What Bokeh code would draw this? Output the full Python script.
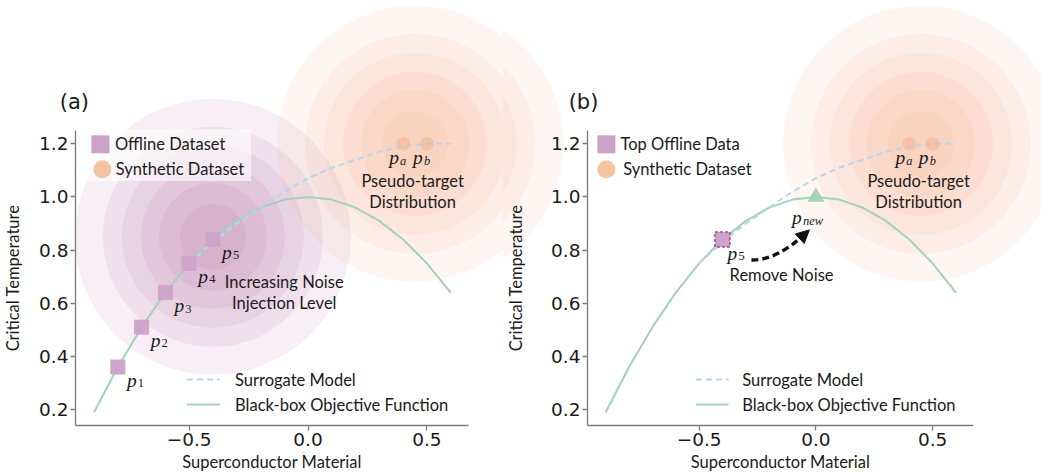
from bokeh.plotting import figure
from bokeh.layouts import row
from bokeh.models import Range1d, FixedTicker, Arrow, NormalHead
from bokeh.core.properties import value
from bokeh.embed import file_html
from bokeh.resources import INLINE

# ---------------- data ----------------
curve_x = [-0.9, -0.8, -0.7, -0.6, -0.5, -0.4, -0.3, -0.2, -0.1, 0.0, 0.1, 0.2, 0.3, 0.4, 0.5, 0.6]
curve_y = [0.19, 0.36, 0.51, 0.64, 0.75, 0.84, 0.91, 0.96, 0.99, 1.00, 0.99, 0.96, 0.91, 0.84, 0.75, 0.64]
surr_x = [-0.5, -0.4, -0.3, -0.2, -0.1, 0.0, 0.1, 0.2, 0.3, 0.4, 0.5, 0.6]
surr_y = [0.75, 0.83, 0.90, 0.96, 1.02, 1.07, 1.11, 1.14, 1.17, 1.19, 1.20, 1.20]
offline_x = [-0.8, -0.7, -0.6, -0.5, -0.4]
offline_y = [0.36, 0.51, 0.64, 0.75, 0.84]
offline_sub = ["1", "2", "3", "4", "5"]
synth_x = [0.4, 0.5]
synth_y = [1.2, 1.2]
synth_sub = ["a", "b"]
top_x = [-0.4]
top_y = [0.84]
top_sub = ["5"]
new_x = [0.0]
new_y = [1.0]
new_sub = ["new"]
noise_cx, noise_cy = -0.4, 0.85
target_cx, target_cy = 0.45, 1.2
ring_sizes = [276, 220, 182, 144, 108, 66]
x_ticks = [-0.5, 0.0, 0.5]
x_tick_labels = ["\u22120.5", "0.0", "0.5"]
y_ticks = [0.2, 0.4, 0.6, 0.8, 1.0, 1.2]
y_tick_labels = ["0.2", "0.4", "0.6", "0.8", "1.0", "1.2"]

# ---------------- styles ----------------
PURPLE_RING = "#a85a98"
ORANGE_RING = "#f0a070"
SQ = "#cda2c9"
ORANGE = "#f4c4a2"
GREEN = "#a3d2b9"
BLUE = "#b6d6f0"
TXT = "#1a1a1a"
SANS = value("Lato")
SERIF = value("Liberation Serif")
FS = "16.5px"
XR = (-0.978, 0.675)
YR = (0.14, 1.25)
PX_PER_X = 239.0
FRAME_LEFT_A, FRAME_LEFT_B = 73, 580


def base_fig(width, left, right, ylabel_standoff):
    p = figure(width=width, height=476, output_backend="svg", toolbar_location=None,
               x_range=Range1d(*XR), y_range=Range1d(*YR),
               min_border_left=left, min_border_right=right,
               min_border_top=130, min_border_bottom=51)
    p.outline_line_color = None
    p.xgrid.visible = False
    p.ygrid.visible = False
    p.background_fill_color = None
    p.border_fill_color = None
    p.xaxis.ticker = FixedTicker(ticks=x_ticks)
    p.xaxis.major_label_overrides = dict(zip(x_ticks, x_tick_labels))
    p.yaxis.ticker = FixedTicker(ticks=y_ticks)
    p.yaxis.major_label_overrides = dict(zip(y_ticks, y_tick_labels))
    for ax in (p.xaxis[0], p.yaxis[0]):
        ax.axis_line_color = "#7a7a7a"
        ax.axis_line_width = 1.3
        ax.major_tick_line_color = "#7a7a7a"
        ax.major_tick_line_width = 1.3
        ax.major_tick_in = 0
        ax.major_tick_out = 5
        ax.minor_tick_line_color = None
        ax.major_label_text_font = "DejaVu Sans"
        ax.major_label_text_font_size = "18.5px"
        ax.major_label_text_color = TXT
        ax.major_label_standoff = 2
        ax.axis_label_text_font = "Lato"
        ax.axis_label_text_font_size = "16.5px"
        ax.axis_label_text_font_style = "normal"
        ax.axis_label_text_color = TXT
    p.xaxis.axis_label = "Superconductor Material"
    p.yaxis.axis_label = "Critical Temperature"
    p.xaxis.axis_label_standoff = 3
    p.yaxis.axis_label_standoff = ylabel_standoff
    return p


def rings(p, cx, cy, color):
    p.scatter(x=[cx] * len(ring_sizes), y=[cy] * len(ring_sizes), size=ring_sizes,
              marker="circle", fill_color=color, fill_alpha=0.095, line_color=None, level="guide")


def p_labels(p, xs, ys, subs, dx, dy, sub_dx=6, sub_style="italic"):
    p.text(x=xs, y=ys, text=["p"] * len(xs), x_offset=dx, y_offset=dy,
           text_font=SERIF, text_font_style="italic", text_font_size="19.5px",
           text_align="center", text_baseline="alphabetic", text_color=TXT, level="annotation")
    p.text(x=xs, y=ys, text=subs, x_offset=dx + sub_dx, y_offset=dy + 3,
           text_font=SERIF, text_font_style=sub_style, text_font_size="12.5px",
           text_align="left", text_baseline="alphabetic", text_color=TXT, level="annotation")


def common(p):
    rings(p, target_cx, target_cy, ORANGE_RING)
    p.line(curve_x, curve_y, line_color=GREEN, line_width=2, level="annotation")
    p.line(surr_x, surr_y, line_color=BLUE, line_width=2, line_dash="6 4", level="annotation")
    p.scatter(synth_x, synth_y, size=14, marker="circle", fill_color="#f0b08a",
              fill_alpha=0.45, line_color=None, level="annotation")
    p_labels(p, synth_x, synth_y, synth_sub, -9, 14, sub_dx=6)
    p.text(x=[0.44], y=[1.02], text=["Pseudo-target\nDistribution"], text_font=SANS,
           text_font_size=FS, text_align="center", text_baseline="middle",
           text_line_height=1.05, text_color=TXT, level="annotation")


def legends(p, sq_x, sq_text_x, circ_x, circ_text_x, first_label, ln_x0, ln_x1, ln_text_x):
    p.scatter([sq_x], [1.198], size=18, marker="square", fill_color=SQ, line_color=None, level="annotation")
    p.text(x=[sq_text_x], y=[1.198], text=[first_label], text_font=SANS, text_font_size=FS,
           text_baseline="middle", text_color=TXT, level="annotation")
    p.scatter([circ_x], [1.104], size=18, marker="circle", fill_color=ORANGE, line_color=None, level="annotation")
    p.text(x=[circ_text_x], y=[1.104], text=["Synthetic Dataset"], text_font=SANS, text_font_size=FS,
           text_baseline="middle", text_color=TXT, level="annotation")
    p.line([ln_x0, ln_x1], [0.313, 0.313], line_color=BLUE, line_width=2, line_dash="6 4", level="annotation")
    p.text(x=[ln_text_x], y=[0.313], text=["Surrogate Model"], text_font=SANS, text_font_size=FS,
           text_baseline="middle", text_color=TXT, level="annotation")
    p.line([ln_x0, ln_x1], [0.219, 0.219], line_color=GREEN, line_width=2, level="annotation")
    p.text(x=[ln_text_x], y=[0.219], text=["Black-box Objective Function"], text_font=SANS,
           text_font_size=FS, text_baseline="middle", text_color=TXT, level="annotation")


def panel_tag(p, x, tag):
    p.text(x=[x], y=[1.357], text=[tag], text_font=value("DejaVu Sans"), text_font_size="21px",
           text_align="center", text_baseline="middle", text_color=TXT, level="annotation")


# ---------------- panel (a) ----------------
pa = base_fig(503, FRAME_LEFT_A, 35, 13)
rings(pa, noise_cx, noise_cy, PURPLE_RING)
common(pa)
pa.quad(left=[-0.93], right=[-0.24], bottom=[1.06], top=[1.255], fill_color="white",
        fill_alpha=0.6, line_color=None, level="annotation")
pa.scatter(offline_x, offline_y, size=15, marker="square", fill_color=SQ, fill_alpha=0.95,
           line_color=None, level="annotation")
p_labels(pa, offline_x, offline_y, offline_sub, 14, 13, sub_style="normal")
pa.text(x=[-0.10], y=[0.64], text=["Increasing Noise\nInjection Level"], text_font=SANS,
        text_font_size=FS, text_align="center", text_baseline="middle",
        text_line_height=1.05, text_color=TXT, level="annotation")
legends(pa, -0.873, -0.812, -0.865, -0.809, "Offline Dataset", -0.509, -0.371, -0.307)
panel_tag(pa, -0.983, "(a)")

# ---------------- panel (b) ----------------
pb = base_fig(538, FRAME_LEFT_B - 503, 68, 22)
# orange rings of panel (a) spilling over into this panel
ghost_cx = target_cx - (FRAME_LEFT_B - FRAME_LEFT_A) / PX_PER_X
rings(pb, ghost_cx, target_cy, ORANGE_RING)
common(pb)
pb.scatter(top_x, top_y, size=15, marker="square", fill_color=SQ, line_color="#a24a9c",
           line_dash="3 2", line_width=1.5, level="annotation")
p_labels(pb, top_x, top_y, top_sub, 10, 14, sub_style="normal")
pb.scatter(new_x, new_y, size=17, marker="triangle", fill_color=GREEN, line_color=None, level="annotation")
p_labels(pb, new_x, new_y, new_sub, -19, 21, sub_dx=6)
# curved "remove noise" arrow
ARR_X0, ARR_Y0, ARR_CX, ARR_CY, ARR_X1, ARR_Y1 = -0.276, 0.763, -0.17, 0.76, -0.045, 0.862
pb.quadratic(x0=[ARR_X0], y0=[ARR_Y0], x1=[ARR_X1], y1=[ARR_Y1], cx=[ARR_CX], cy=[ARR_CY],
             line_color="#111111", line_width=3.5, line_dash="7 4", level="annotation")
pb.add_layout(Arrow(end=NormalHead(size=13, fill_color="#111111", line_color="#111111"),
                    x_start=-0.06, y_start=0.85, x_end=-0.028, y_end=0.876, line_alpha=0))
pb.text(x=[-0.147], y=[0.708], text=["Remove Noise"], text_font=SANS, text_font_size=FS,
        text_align="center", text_baseline="middle", text_color=TXT, level="annotation")
legends(pb, -0.897, -0.837, -0.897, -0.825, "Top Offline Data", -0.513, -0.374, -0.315)
panel_tag(pb, -0.995, "(b)")

layout = row(pa, pb)
open("out.html", "w").write(file_html(layout, INLINE))
